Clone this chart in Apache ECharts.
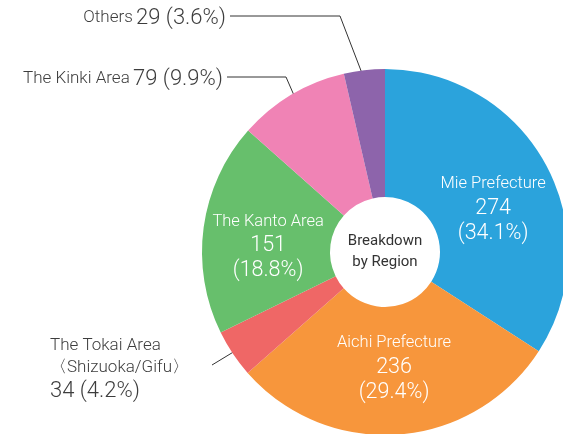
<!DOCTYPE html>
<html>
<head>
<meta charset="utf-8">
<script src="https://cdn.jsdelivr.net/npm/echarts@6/dist/echarts.min.js"></script>
<style>
html, body { margin: 0; padding: 0; background: #fff; }
#chart { width: 563px; height: 434px; }
</style>
</head>
<body>
<div id="chart"></div>
<script>
var regions = ['Mie Prefecture', 'Aichi Prefecture', 'The Tokai Area\n〈Shizuoka/Gifu〉', 'The Kanto Area', 'The Kinki Area', 'Others'];
var counts = [274, 236, 34, 151, 79, 29];
var colors = ['#2ba3dc', '#f7963c', '#ef6766', '#67bf6c', '#f083b5', '#8d64ab'];
var centerText = 'Breakdown\nby Region';

var cx = 385, cy = 252;
var font = 'Roboto, "Liberation Sans", sans-serif';

// labels drawn inside their slice, nudged a bit
var insideOffset = { 0: [1, 15], 1: [0, -6], 3: [4, 11] };
// labels pulled out to the left with a guide line
var guides = {
  2: { r: 158, x: 50, y: 369, align: 'left', elbow: [212, 365], end: [212, 365] },
  4: { r: 167, x: 223, y: 79, align: 'right', elbow: [286, 77], end: [227, 77] },
  5: { r: 170, x: 226, y: 18, align: 'right', elbow: [340, 16], end: [230, 16] }
};

var total = counts.reduce(function (a, b) { return a + b; }, 0);
function midAngle(i) {
  var before = 0;
  for (var k = 0; k < i; k++) before += counts[k];
  return (90 - 360 * (before + counts[i] / 2) / total) * Math.PI / 180;
}

var data = regions.map(function (name, i) {
  var item = { name: name, value: counts[i], itemStyle: { color: colors[i] } };
  if (insideOffset[i]) {
    item.label = {
      position: 'inside',
      offset: insideOffset[i],
      formatter: '{n|{b}}\n{v|{c}}\n{v|({d}%)}',
      rich: {
        n: { fontSize: 16.5, lineHeight: 24, color: '#fff', fontFamily: font, fontWeight: 300 },
        v: { fontSize: 21.5, lineHeight: 25, color: '#fff', fontFamily: font, fontWeight: 300 }
      }
    };
    item.labelLine = { show: false };
  } else {
    item.label = {
      position: 'outside',
      formatter: i === 2 ? '{n|{b}}\n{v|{c} ({d}%)}' : '{n|{b}} {v|{c} ({d}%)}',
      rich: {
        n: { fontSize: 17, lineHeight: 22, color: '#3d3d3d', fontFamily: font, fontWeight: 300 },
        v: { fontSize: 22, lineHeight: 24, color: '#3d3d3d', fontFamily: font, fontWeight: 300 }
      }
    };
    item.labelLine = { show: true, lineStyle: { color: '#333', width: 1 } };
  }
  return item;
});

var myChart = echarts.init(document.getElementById('chart'));
var option = {
  animation: false,
  graphic: [{
    type: 'text',
    x: cx,
    y: cy,
    z: 10,
    style: {
      text: centerText,
      textAlign: 'center',
      textVerticalAlign: 'middle',
      verticalAlign: 'middle',
      fontSize: 15,
      lineHeight: 21,
      fontFamily: font,
      fill: '#333'
    }
  }],
  series: [{
    type: 'pie',
    center: [cx, cy],
    radius: [55, 183],
    startAngle: 90,
    clockwise: true,
    percentPrecision: 1,
    avoidLabelOverlap: false,
    emphasis: { disabled: true },
    itemStyle: { borderWidth: 0 },
    labelLayout: function (p) {
      var g = guides[p.dataIndex];
      if (!g) return {};
      var a = midAngle(p.dataIndex);
      var sx = cx + g.r * Math.cos(a);
      var sy = cy - g.r * Math.sin(a);
      return {
        x: g.x,
        y: g.y,
        align: g.align,
        verticalAlign: 'middle',
        labelLinePoints: [[sx, sy], g.elbow, g.end]
      };
    },
    data: data
  }]
};
myChart.setOption(option);
</script>
</body>
</html>
